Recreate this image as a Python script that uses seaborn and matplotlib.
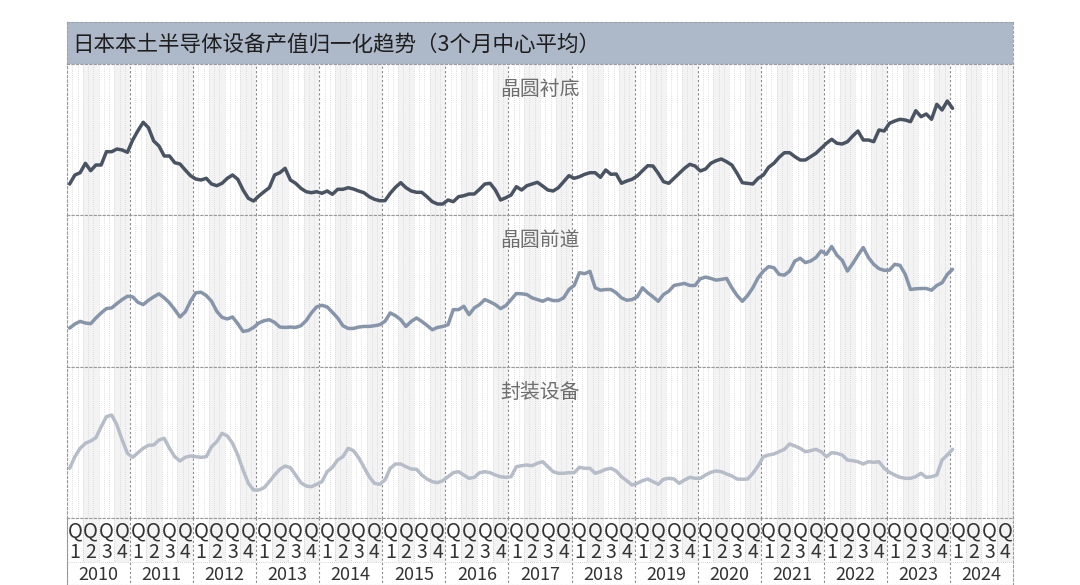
import numpy as np
import pandas as pd
import matplotlib
matplotlib.use("Agg")
import matplotlib.pyplot as plt
import seaborn as sns

# Monthly normalized values (3-month centred average), Jan 2010 - Jan 2024
substrate = [
    31.0, 40.0, 42.3, 51.7, 44.3, 50.0, 50.0, 63.3, 63.3, 66.0, 65.0, 62.7,
    75.0, 84.3, 92.7, 87.3, 74.0, 69.0, 59.0, 59.0, 52.3, 51.0, 45.0, 39.3,
    36.0, 35.0, 36.7, 31.0, 29.3, 31.7, 36.7, 40.0, 35.7, 25.0, 16.7, 14.0,
    19.0, 23.3, 27.3, 40.0, 42.3, 46.7, 35.0, 31.7, 26.7, 23.3, 22.3, 23.3,
    21.7, 24.0, 20.7, 25.7, 25.7, 27.3, 26.0, 24.0, 22.3, 18.3, 15.7, 14.3,
    14.3, 21.7, 27.7, 32.3, 27.3, 24.0, 22.7, 22.7, 18.3, 13.3, 11.0, 11.0,
    15.0, 13.3, 18.3, 19.3, 21.0, 21.0, 25.7, 31.0, 31.7, 25.0, 15.0, 17.3,
    20.0, 28.3, 25.0, 29.3, 31.0, 32.7, 29.0, 25.0, 24.0, 27.3, 33.3, 39.3,
    36.7, 38.3, 40.7, 42.3, 42.3, 37.7, 45.0, 40.7, 41.0, 31.7, 34.0, 35.7,
    39.0, 44.3, 49.3, 49.0, 41.7, 33.3, 31.7, 36.7, 41.7, 46.7, 50.7, 49.0,
    44.0, 46.0, 51.7, 54.3, 56.0, 53.3, 50.0, 41.7, 32.3, 31.7, 31.0, 36.7,
    40.0, 47.7, 51.7, 57.7, 62.3, 62.3, 58.3, 55.0, 55.0, 58.3, 61.7, 66.7,
    71.7, 75.7, 71.7, 71.0, 73.3, 79.0, 84.0, 75.0, 75.0, 73.3, 85.0, 84.0,
    91.7, 94.0, 95.7, 95.0, 93.3, 104.3, 98.3, 101.0, 95.7, 110.7, 105.0, 114.0,
    106.7,
]
front_end = [
    38.7, 42.7, 45.3, 43.7, 43.0, 48.7, 53.7, 58.0, 58.7, 63.0, 67.0, 70.3,
    69.7, 64.3, 62.0, 66.3, 69.7, 72.7, 68.7, 63.7, 57.0, 49.7, 54.7, 65.3,
    73.7, 74.3, 71.0, 65.3, 55.3, 49.3, 47.7, 49.7, 43.0, 35.3, 36.3, 39.3,
    43.7, 46.0, 47.0, 44.3, 39.7, 39.3, 39.7, 39.3, 41.0, 46.0, 53.7, 59.7,
    61.3, 59.7, 54.3, 48.7, 41.0, 38.3, 38.3, 39.7, 40.3, 40.3, 41.0, 42.0,
    45.3, 53.7, 51.0, 47.0, 40.3, 45.3, 48.7, 45.3, 41.3, 37.0, 39.3, 40.3,
    42.0, 57.0, 57.0, 60.3, 52.0, 58.7, 62.0, 67.0, 64.7, 62.0, 58.0, 61.0,
    67.0, 73.0, 72.7, 72.0, 68.7, 67.0, 65.3, 67.7, 66.0, 66.0, 68.7, 77.0,
    81.0, 93.7, 92.7, 95.0, 78.7, 76.3, 77.0, 77.0, 73.7, 68.7, 66.3, 67.0,
    69.7, 78.7, 73.7, 69.7, 65.3, 72.0, 75.3, 81.0, 82.0, 83.0, 81.0, 81.0,
    87.7, 89.3, 88.0, 86.3, 87.0, 88.0, 78.7, 71.0, 65.3, 71.0, 78.7, 88.7,
    95.3, 99.7, 98.7, 92.0, 91.3, 95.3, 105.3, 108.0, 103.7, 105.3, 108.7, 115.3,
    112.0, 119.7, 111.0, 106.0, 95.3, 102.7, 111.0, 118.7, 108.7, 102.0, 97.7, 96.0,
    96.3, 102.0, 101.0, 92.0, 77.0, 77.7, 78.0, 78.0, 76.3, 81.0, 83.7, 92.0,
    97.0,
]
packaging = [
    49.7, 61.3, 69.7, 74.7, 77.0, 80.3, 91.3, 101.3, 103.0, 93.0, 78.0, 64.7,
    60.7, 65.3, 69.7, 72.7, 73.0, 78.0, 79.7, 69.7, 61.3, 57.0, 60.7, 62.0,
    61.3, 60.7, 61.3, 71.3, 76.3, 84.7, 82.0, 74.7, 63.0, 48.0, 34.7, 28.0,
    28.0, 30.3, 36.3, 43.0, 48.7, 52.0, 50.3, 43.0, 35.3, 32.0, 31.3, 33.7,
    36.3, 46.3, 50.7, 58.0, 61.3, 69.7, 67.3, 60.3, 50.7, 41.3, 34.7, 33.7,
    38.0, 49.7, 54.0, 54.0, 51.3, 49.0, 48.7, 43.0, 39.0, 36.3, 35.3, 37.3,
    41.3, 45.3, 46.3, 43.0, 39.7, 40.7, 45.3, 46.3, 45.3, 43.0, 41.3, 40.7,
    41.3, 51.3, 52.3, 53.0, 52.3, 54.7, 56.3, 51.3, 46.3, 44.7, 44.7, 45.3,
    45.3, 50.7, 49.7, 49.7, 44.7, 46.3, 48.7, 49.7, 47.0, 41.3, 37.3, 33.0,
    34.7, 37.3, 39.0, 36.3, 33.7, 38.7, 39.7, 39.0, 34.7, 38.0, 40.7, 39.7,
    39.7, 43.0, 45.7, 47.0, 46.3, 44.0, 42.0, 39.0, 38.7, 39.0, 44.7, 52.0,
    61.3, 63.0, 64.0, 66.3, 68.7, 74.0, 72.0, 69.7, 66.3, 67.3, 68.7, 66.3,
    61.3, 65.3, 64.7, 63.0, 58.0, 57.3, 56.3, 54.0, 56.3, 55.7, 56.3, 49.7,
    45.7, 43.0, 40.7, 39.7, 39.7, 41.3, 44.7, 40.7, 41.3, 43.0, 58.0, 63.0,
    68.7,
]

panel_names = ["晶圆衬底", "晶圆前道", "封装设备"]
line_colors = ["#4a5362", "#8795aa", "#b6bdc9"]
years = list(range(2010, 2025))
title = "日本本土半导体设备产值归一化趋势（3个月中心平均）"

rows = []
for name, vals in zip(panel_names, [substrate, front_end, packaging]):
    for i, v in enumerate(vals):
        rows.append({"month": i, "value": v, "series": name})
df = pd.DataFrame(rows)

sns.set_theme(style="white")
plt.rcParams["font.family"] = ["Noto Sans CJK SC", "DejaVu Sans"]

W, H = 1080, 585
fig = plt.figure(figsize=(W / 100, H / 100), dpi=100)


def box(x0, y0, x1, y1):
    return [x0 / W, 1 - y1 / H, (x1 - x0) / W, (y1 - y0) / H]


LEFT, RIGHT = 67, 1013
n_months = len(years) * 12
xlim = (-0.5, n_months - 0.5)
shade = "#f3f3f3"

# title bar
ax_t = fig.add_axes(box(LEFT, 22, RIGHT, 64))
ax_t.set_facecolor("#adb8c8")
ax_t.set_xticks([])
ax_t.set_yticks([])
for sp in ax_t.spines.values():
    sp.set_linestyle((0, (2, 2)))
    sp.set_color("#9aa3b0")
    sp.set_linewidth(0.8)
ax_t.text(0.006, 0.47, title, transform=ax_t.transAxes, ha="left", va="center",
          fontsize=15.5, color="#1e1e1e")

panel_tops = [64, 215, 367]
panel_bottoms = [215, 367, 518]

for k, name in enumerate(panel_names):
    ax = fig.add_axes(box(LEFT, panel_tops[k], RIGHT, panel_bottoms[k]))
    # alternate quarter shading
    for q in range(n_months // 3):
        if q % 2 == 1:
            ax.axvspan(3 * q - 0.5, 3 * q + 2.5, color=shade, lw=0, zorder=0)
    # month / year grid
    for m in range(n_months + 1):
        if m % 12 == 0:
            ax.axvline(m - 0.5, color="#8a8a8a", lw=0.8, ls=(0, (2, 2)), zorder=1)
        else:
            ax.axvline(m - 0.5, color="#d4d4d4", lw=0.6, ls=(0, (1, 1.5)), zorder=1)
    sns.lineplot(data=df[df["series"] == name], x="month", y="value",
                 color=line_colors[k], lw=2.5, ax=ax, zorder=3)
    ax.set_xlim(*xlim)
    ax.set_ylim(0, 151)
    ax.set_xticks([])
    ax.set_yticks([])
    ax.set_xlabel("")
    ax.set_ylabel("")
    for sp in ax.spines.values():
        sp.set_linestyle((0, (2, 2)))
        sp.set_color("#9a9a9a")
        sp.set_linewidth(0.8)
    ax.text(0.5, 1 - 25 / 151, name, transform=ax.transAxes, ha="center",
            va="center", fontsize=14.3, color="#6e6e6e", zorder=4)

# quarter / year axis labels
ax_q = fig.add_axes(box(LEFT, 518, RIGHT, 585))
ax_q.set_xlim(*xlim)
ax_q.set_ylim(585, 518)
ax_q.set_xticks([])
ax_q.set_yticks([])
for sp in ax_q.spines.values():
    sp.set_linestyle((0, (2, 2)))
    sp.set_color("#9a9a9a")
    sp.set_linewidth(0.8)
for q in range(n_months // 3):
    x0 = 3 * q - 0.5
    if q % 2 == 1:
        ax_q.fill_between([x0, x0 + 3], 518, 562, color=shade, lw=0, zorder=0)
    if q % 4 == 0:
        ax_q.plot([x0, x0], [518, 585], color="#8a8a8a", lw=0.8, ls=(0, (2, 2)))
    else:
        ax_q.plot([x0, x0], [518, 562], color="#c4c4c4", lw=0.6, ls=(0, (1, 1.5)))
    xc = x0 + 1.5
    ax_q.text(xc, 531, "Q", ha="center", va="center", fontsize=14.5, color="#333333")
    ax_q.text(xc, 553, str(q % 4 + 1), ha="center", va="center", fontsize=14,
              color="#333333")
ax_q.plot(xlim, [562, 562], color="#c4c4c4", lw=0.6, ls=(0, (1, 1.5)))
for j, yr in enumerate(years):
    ax_q.text(12 * j + 5.5, 574.5, str(yr), ha="center", va="center", fontsize=13,
              color="#333333")

fig.savefig("out.png", dpi=100, facecolor="white")
